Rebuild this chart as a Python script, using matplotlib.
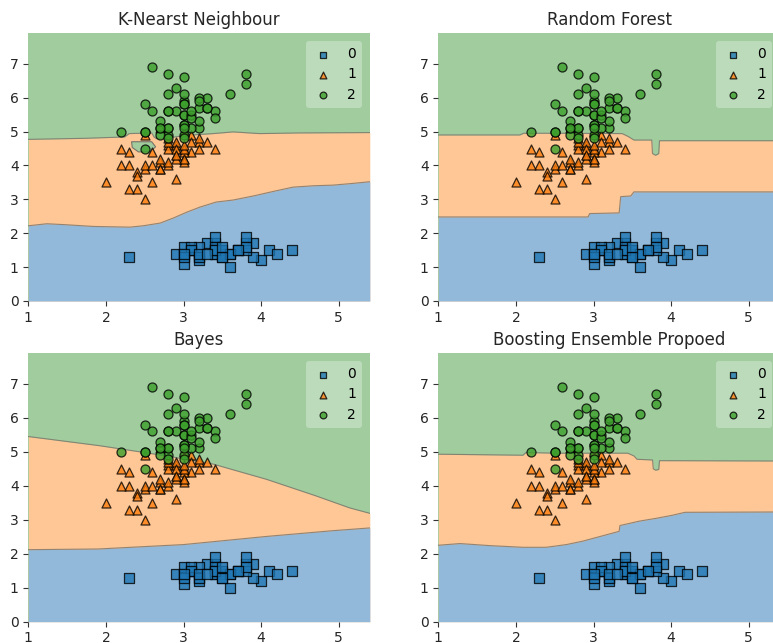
import numpy as np
import matplotlib
matplotlib.use("Agg")
import matplotlib.pyplot as plt

# ---------------- data (Iris: sepal width vs petal length) ----------------
sw_0 = [3.5,3.0,3.2,3.1,3.6,3.9,3.4,3.4,2.9,3.1,3.7,3.4,3.0,3.0,4.0,4.4,3.9,3.5,3.8,3.8,
        3.4,3.7,3.6,3.3,3.4,3.0,3.4,3.5,3.4,3.2,3.1,3.4,4.1,4.2,3.1,3.2,3.5,3.6,3.0,3.4,
        3.5,2.3,3.2,3.5,3.8,3.0,3.8,3.2,3.7,3.3]
pl_0 = [1.4,1.4,1.3,1.5,1.4,1.7,1.4,1.5,1.4,1.5,1.5,1.6,1.4,1.1,1.2,1.5,1.3,1.4,1.7,1.5,
        1.7,1.5,1.0,1.7,1.9,1.6,1.6,1.5,1.4,1.6,1.6,1.5,1.5,1.4,1.5,1.2,1.3,1.4,1.3,1.5,
        1.3,1.3,1.3,1.6,1.9,1.4,1.6,1.4,1.5,1.4]
sw_1 = [3.2,3.2,3.1,2.3,2.8,2.8,3.3,2.4,2.9,2.7,2.0,3.0,2.2,2.9,2.9,3.1,3.0,2.7,2.2,2.5,
        3.2,2.8,2.5,2.8,2.9,3.0,2.8,3.0,2.9,2.6,2.4,2.4,2.7,2.7,3.0,3.4,3.1,2.3,3.0,2.5,
        2.6,3.0,2.6,2.3,2.7,3.0,2.9,2.9,2.5,2.8]
pl_1 = [4.7,4.5,4.9,4.0,4.6,4.5,4.7,3.3,4.6,3.9,3.5,4.2,4.0,4.7,3.6,4.4,4.5,4.1,4.5,3.9,
        4.8,4.0,4.9,4.7,4.3,4.4,4.8,5.0,4.5,3.5,3.8,3.7,3.9,5.1,4.5,4.5,4.7,4.4,4.1,4.0,
        4.4,4.6,4.0,3.3,4.2,4.2,4.2,4.3,3.0,4.1]
sw_2 = [3.3,2.7,3.0,2.9,3.0,3.0,2.5,2.9,2.5,3.6,3.2,2.7,3.0,2.5,2.8,3.2,3.0,3.8,2.6,2.2,
        3.2,2.8,2.8,2.7,3.3,3.2,2.8,3.0,2.8,3.0,2.8,3.8,2.8,2.8,2.6,3.0,3.4,3.1,3.0,3.1,
        3.1,3.1,2.7,3.2,3.3,3.0,2.5,3.0,3.4,3.0]
pl_2 = [6.0,5.1,5.9,5.6,5.8,6.6,4.5,6.3,5.8,6.1,5.1,5.3,5.5,5.0,5.1,5.3,5.5,6.7,6.9,5.0,
        5.7,4.9,6.7,4.9,5.7,6.0,4.8,4.9,5.6,5.8,6.1,6.4,5.6,5.1,5.6,6.1,5.6,5.5,4.8,5.4,
        5.6,5.1,5.1,5.9,5.7,5.2,5.0,5.2,5.4,5.1]
class_labels = ["0", "1", "2"]

titles = ["K-Nearst Neighbour", "Random Forest", "Bayes", "Boosting Ensemble Propoed"]

# decision boundaries: (x list, y list)
knn_low_x = [1.0,1.24,1.49,1.84,2.31,2.48,2.70,2.87,3.04,3.21,3.42,3.64,3.90,4.15,4.41,4.67,4.93,5.18,5.4]
knn_low_y = [2.22,2.28,2.25,2.20,2.18,2.22,2.30,2.45,2.62,2.77,2.92,2.98,3.10,3.23,3.36,3.40,3.42,3.47,3.52]
knn_up_x = [1.0,1.71,2.24,2.30,2.59,2.62,2.65,2.82,3.04,3.38,3.64,3.98,4.50,5.4]
knn_up_y = [4.77,4.80,4.84,4.94,4.96,4.84,4.79,4.82,4.89,4.94,4.99,4.94,4.96,4.97]
knn_isl_x = [2.33,2.59,2.64,2.57,2.42,2.34]
knn_isl_y = [4.70,4.70,4.55,4.40,4.40,4.53]

rf_low_x = [1.0,2.93,2.95,3.33,3.35,3.48,3.52,5.4]
rf_low_y = [2.48,2.48,2.58,2.60,3.08,3.10,3.22,3.22]
rf_up_x = [1.0,2.05,2.10,2.55,2.60,3.37,3.45,3.52,3.75,3.76,3.80,3.84,3.85,5.4]
rf_up_y = [4.90,4.90,4.95,4.95,4.95,4.94,4.85,4.75,4.75,4.35,4.30,4.35,4.73,4.73]

nb_low_x = [1.0,1.9,3.0,4.07,4.93,5.4]
nb_low_y = [2.12,2.14,2.27,2.51,2.68,2.76]
nb_up_x = [1.0,1.92,2.78,3.38,4.07,4.71,5.14,5.4]
nb_up_y = [5.45,5.18,4.88,4.64,4.19,3.70,3.35,3.19]

bo_low_x = [1.0,1.28,1.66,2.09,2.39,2.65,2.86,3.12,3.33,3.34,3.59,3.80,4.01,4.18,5.4]
bo_low_y = [2.25,2.30,2.24,2.19,2.19,2.27,2.37,2.53,2.66,2.83,2.96,3.04,3.13,3.22,3.23]
bo_up_x = [1.0,2.09,2.13,2.52,3.44,3.52,3.56,3.76,3.77,3.80,3.84,3.85,5.4]
bo_up_y = [4.93,4.90,4.98,4.96,4.96,4.88,4.78,4.76,4.50,4.46,4.48,4.74,4.73]

boundaries = [
    (knn_low_x, knn_low_y, knn_up_x, knn_up_y, (knn_isl_x, knn_isl_y)),
    (rf_low_x, rf_low_y, rf_up_x, rf_up_y, None),
    (nb_low_x, nb_low_y, nb_up_x, nb_up_y, None),
    (bo_low_x, bo_low_y, bo_up_x, bo_up_y, None),
]

# ---------------- style ----------------
colors = ["#1f77b4", "#ff7f0e", "#3ca02c"]
markers = ["s", "^", "o"]
region = ["#92b9da", "#fec795", "#a0cc9e"]
edge_col = "#7a7268"

W, H = 773, 643
fig = plt.figure(figsize=(W / 100, H / 100), dpi=100)
positions = [
    [28.3 / W, (H - 301) / H, 341.5 / W, 267.7 / H],
    [438.3 / W, (H - 301) / H, 341.5 / W, 267.7 / H],
    [28.3 / W, (H - 621.7) / H, 341.5 / W, 268.4 / H],
    [438.3 / W, (H - 621.7) / H, 341.5 / W, 268.4 / H],
]

xmin, xmax, ymin, ymax = 1.0, 5.4, 0.0, 7.9
data = [(sw_0, pl_0), (sw_1, pl_1), (sw_2, pl_2)]

for i in range(4):
    ax = fig.add_axes(positions[i])
    lx, ly, ux, uy, isl = boundaries[i]
    ax.fill_between([xmin, xmax], ymin, ymax, color=region[2], lw=0, zorder=0)
    ax.fill_between(ux, ymin, uy, color=region[1], lw=0, zorder=0.1)
    ax.fill_between(lx, ymin, ly, color=region[0], lw=0, zorder=0.2)
    ax.plot(ux, uy, color=edge_col, lw=0.8, alpha=0.8, zorder=0.3)
    ax.plot(lx, ly, color=edge_col, lw=0.8, alpha=0.8, zorder=0.3)
    if isl is not None:
        ax.fill(isl[0], isl[1], facecolor=region[2], edgecolor=edge_col, lw=0.8, zorder=0.3)
    handles = []
    for k in range(3):
        h = ax.scatter(data[k][0], data[k][1], s=42, c=colors[k], marker=markers[k],
                       edgecolors="black", linewidths=0.9, alpha=0.8, zorder=2,
                       label=class_labels[k])
        handles.append(h)
    ax.set_xlim(xmin, xmax)
    ax.set_ylim(ymin, ymax)
    ax.set_xticks([1, 2, 3, 4, 5])
    ax.set_yticks([0, 1, 2, 3, 4, 5, 6, 7])
    ax.tick_params(labelsize=10, colors="#333333", labelcolor="#262626", length=3.5, width=0.8)
    for sp in ax.spines.values():
        sp.set_visible(False)
    ax.set_title(titles[i], fontsize=12, color="#262626", pad=6)
    leg = ax.legend(handles=handles, loc="upper right", framealpha=0.3, fontsize=10,
                    markerscale=0.75, labelspacing=0.45, handletextpad=0.9,
                    handlelength=1.6, scatterpoints=1, borderaxespad=0.55,
                    borderpad=0.45)
    leg.get_frame().set_linewidth(0)

fig.savefig("out.png", dpi=100)
